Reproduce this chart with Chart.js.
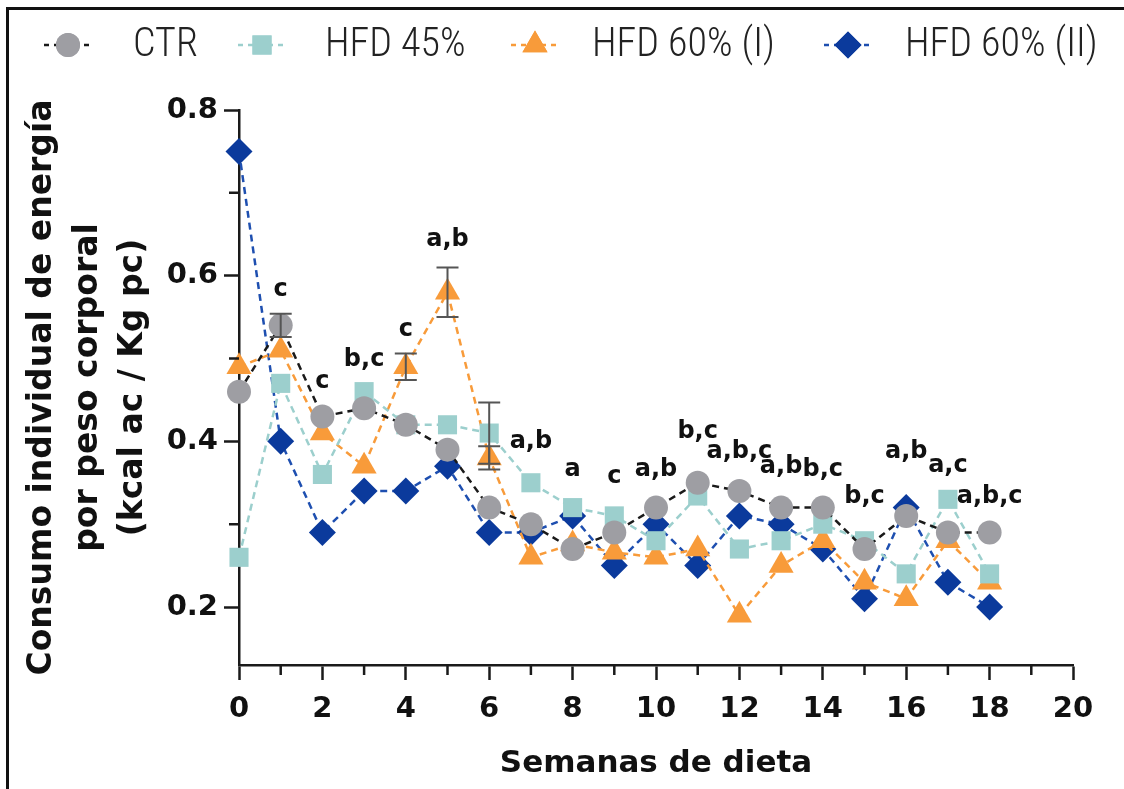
<!DOCTYPE html>
<html lang="es">
<head>
<meta charset="UTF-8">
<title>Consumo individual de energía</title>
<script src="https://cdn.jsdelivr.net/npm/chart.js"></script>
<style>
  body { margin: 0; background: #fff; overflow: hidden; }
  #frame { position: absolute; left: 6px; top: 7px; width: 1200px; height: 900px; border: 3px solid #111; }
  #wrap { position: absolute; left: 0; top: 0; width: 1124px; height: 789px; }
</style>
</head>
<body>
<div id="frame"></div>
<div id="wrap"><canvas id="chart" width="1124" height="789"></canvas></div>
<script>
// semanas
const weeks = [0, 1, 2, 3, 4, 5, 6, 7, 8, 9, 10, 11, 12, 13, 14, 15, 16, 17, 18];

const ctrVals    = [0.46, 0.54, 0.43, 0.44, 0.42, 0.39, 0.32, 0.30, 0.27, 0.29, 0.32, 0.35, 0.34, 0.32, 0.32, 0.27, 0.31, 0.29, 0.29];
const hfd45Vals  = [0.26, 0.47, 0.36, 0.46, 0.42, 0.42, 0.41, 0.35, 0.32, 0.31, 0.28, 0.334, 0.27, 0.28, 0.30, 0.28, 0.24, 0.33, 0.24];
const hfd60iVals = [0.49, 0.51, 0.41, 0.37, 0.49, 0.58, 0.38, 0.26, 0.276, 0.266, 0.26, 0.27, 0.19, 0.25, 0.28, 0.23, 0.21, 0.28, 0.23];
const hfd60iiVals= [0.75, 0.40, 0.29, 0.34, 0.34, 0.37, 0.29, 0.29, 0.31, 0.25, 0.30, 0.25, 0.31, 0.30, 0.27, 0.21, 0.32, 0.23, 0.20];

// error (SEM), 0 = no se ve
const ctrErr     = [0, 0.014, 0, 0, 0, 0, 0, 0, 0, 0, 0, 0, 0, 0, 0, 0, 0, 0, 0];
const hfd45Err   = [0, 0, 0, 0, 0, 0, 0.037, 0, 0, 0, 0, 0, 0, 0, 0, 0, 0, 0, 0];
const hfd60iErr  = [0, 0, 0, 0, 0.016, 0.03, 0.014, 0, 0, 0, 0, 0, 0, 0, 0, 0, 0, 0, 0];
const hfd60iiErr = [0, 0, 0, 0, 0, 0, 0, 0, 0, 0, 0, 0, 0, 0, 0, 0, 0, 0, 0];

// letras de significancia
const sigWeeks  = [1, 2, 3, 4, 5, 7, 8, 9, 10, 11, 12, 13, 14, 15, 16, 17, 18];
const sigLabels = ['c', 'c', 'b,c', 'c', 'a,b', 'a,b', 'a', 'c', 'a,b', 'b,c', 'a,b,c', 'a,b', 'b,c', 'b,c', 'a,b', 'a,c', 'a,b,c'];
const sigY      = [0.583, 0.472, 0.499, 0.535, 0.643, 0.399, 0.366, 0.357, 0.366, 0.411, 0.388, 0.369, 0.366, 0.333, 0.388, 0.371, 0.333];

const xTicks = [0, 1, 2, 3, 4, 5, 6, 7, 8, 9, 10, 11, 12, 13, 14, 15, 16, 17, 18, 19, 20];
const yTicks = [0.2, 0.3, 0.4, 0.5, 0.6, 0.7, 0.8];

const series = [
  { label: 'CTR',          vals: ctrVals,     err: ctrErr,     color: '#9e9ea3', line: '#1a1a1a', style: 'circle',   r: 12,   order: 0 },
  { label: 'HFD 45%',      vals: hfd45Vals,   err: hfd45Err,   color: '#9ccfcd', line: '#9ccfcd', style: 'rect',     r: 13.5, order: 1 },
  { label: 'HFD 60% (I)',  vals: hfd60iVals,  err: hfd60iErr,  color: '#f89b3a', line: '#f89b3a', style: 'triangle', r: 14.5, order: 2 },
  { label: 'HFD 60% (II)', vals: hfd60iiVals, err: hfd60iiErr, color: '#0b3a9c', line: '#1e4fb0', style: 'rectRot',  r: 13.5, order: 3 }
];

const boldFont = 'DejaVu Sans';
const dash = [7, 5];

const errorBars = {
  id: 'errorBars',
  afterDatasetsDraw(chart) {
    const ctx = chart.ctx, x = chart.scales.x, y = chart.scales.y;
    ctx.save();
    ctx.strokeStyle = '#555';
    ctx.lineWidth = 2;
    series.forEach(s => {
      s.err.forEach((e, i) => {
        if (!e) return;
        const px = x.getPixelForValue(weeks[i]);
        const top = y.getPixelForValue(s.vals[i] + e);
        const bot = y.getPixelForValue(s.vals[i] - e);
        ctx.beginPath();
        ctx.moveTo(px, top); ctx.lineTo(px, bot);
        ctx.moveTo(px - 11, top); ctx.lineTo(px + 11, top);
        ctx.moveTo(px - 11, bot); ctx.lineTo(px + 11, bot);
        ctx.stroke();
      });
    });
    ctx.restore();
  }
};

const sigText = {
  id: 'sigText',
  afterDraw(chart) {
    const ctx = chart.ctx, x = chart.scales.x, y = chart.scales.y;
    ctx.save();
    ctx.fillStyle = '#111';
    ctx.font = 'bold 24px "' + boldFont + '"';
    ctx.textAlign = 'center';
    ctx.textBaseline = 'middle';
    sigWeeks.forEach((w, i) => {
      ctx.fillText(sigLabels[i], x.getPixelForValue(w), y.getPixelForValue(sigY[i]));
    });
    ctx.restore();
  }
};

const minorTicks = {
  id: 'minorTicks',
  afterDraw(chart) {
    const ctx = chart.ctx, x = chart.scales.x, y = chart.scales.y;
    const a = chart.chartArea;
    ctx.save();
    ctx.strokeStyle = '#1a1a1a';
    ctx.lineWidth = 2.5;
    ctx.beginPath();
    xTicks.forEach(v => {
      if (v % 2 === 0) return;
      const px = x.getPixelForValue(v);
      ctx.moveTo(px, a.bottom); ctx.lineTo(px, a.bottom + 10);
    });
    [0.3, 0.5, 0.7].forEach(v => {
      const py = y.getPixelForValue(v);
      ctx.moveTo(a.left, py); ctx.lineTo(a.left - 10, py);
    });
    ctx.stroke();
    ctx.restore();
  }
};

const legendLine = {
  id: 'legendLine',
  afterDraw(chart) {
    const ctx = chart.ctx;
    const markerX = [68, 262, 535, 848];
    const textX = [133, 325, 592, 905];
    const yc = 45;
    ctx.save();
    series.forEach((s, i) => {
      ctx.strokeStyle = s.line;
      ctx.lineWidth = 2.5;
      ctx.setLineDash([5, 5]);
      ctx.beginPath();
      ctx.moveTo(markerX[i] - 24, yc); ctx.lineTo(markerX[i] + 24, yc);
      ctx.stroke();
      ctx.setLineDash([]);
      ctx.fillStyle = s.color;
      ctx.strokeStyle = s.color;
      Chart.helpers.drawPoint(ctx, { pointStyle: s.style, radius: s.r, borderWidth: 0, rotation: 0 }, markerX[i], yc);
      ctx.fill();
      ctx.fillStyle = '#222';
      ctx.font = '300 40px "Liberation Sans Narrow", "Roboto Condensed", "Roboto", sans-serif';
      ctx.textAlign = 'left';
      ctx.textBaseline = 'middle';
      ctx.fillText(s.label, textX[i], yc + 1);
    });
    ctx.restore();
  }
};

new Chart(document.getElementById('chart'), {
  type: 'line',
  data: {
    datasets: series.map(s => ({
      label: s.label,
      data: weeks.map((w, i) => ({ x: w, y: s.vals[i] })),
      borderColor: s.line,
      borderWidth: 2.5,
      borderDash: dash,
      backgroundColor: s.color,
      pointBackgroundColor: s.color,
      pointBorderColor: s.color,
      pointBorderWidth: 0,
      pointStyle: s.style,
      pointRadius: s.r,
      order: s.order,
      clip: false,
      tension: 0,
      fill: false
    }))
  },
  options: {
    responsive: false,
    animation: false,
    layout: { padding: { top: 110, left: 10, right: 51, bottom: 4 } },
    plugins: { legend: { display: false }, tooltip: { enabled: false } },
    scales: {
      x: {
        type: 'linear', min: 0, max: 20,
        afterBuildTicks: sc => { sc.ticks = xTicks.map(v => ({ value: v })); },
        afterFit: sc => { sc.height = 120; },
        grid: {
          drawOnChartArea: false,
          tickLength: 15,
          tickWidth: 2.5,
          tickColor: c => (c.tick && c.tick.value % 2 === 0) ? '#1a1a1a' : 'rgba(0,0,0,0)'
        },
        border: { color: '#1a1a1a', width: 2.5 },
        ticks: {
          color: '#111', padding: 12, maxRotation: 0, autoSkip: false,
          font: { family: boldFont, size: 29, weight: 'bold' },
          callback: v => (v % 2 === 0 ? String(v) : '')
        },
        title: {
          display: true, text: 'Semanas de dieta', color: '#111',
          font: { family: boldFont, size: 31, weight: 'bold' }, padding: { top: 12, bottom: 2 }
        }
      },
      y: {
        type: 'linear', min: 0.13, max: 0.8,
        afterBuildTicks: sc => { sc.ticks = yTicks.map(v => ({ value: v })); },
        afterFit: sc => { sc.width = 229; },
        grid: {
          drawOnChartArea: false,
          tickLength: 15,
          tickWidth: 2.5,
          tickColor: c => (c.tick && [0.2, 0.4, 0.6, 0.8].some(t => Math.abs(t - c.tick.value) < 1e-6)) ? '#1a1a1a' : 'rgba(0,0,0,0)'
        },
        border: { color: '#1a1a1a', width: 2.5 },
        ticks: {
          color: '#111', padding: 6, autoSkip: false,
          font: { family: boldFont, size: 29, weight: 'bold' },
          callback: v => ([0.2, 0.4, 0.6, 0.8].some(t => Math.abs(t - v) < 1e-6) ? v.toFixed(1) : '')
        },
        title: {
          display: true,
          text: ['Consumo individual de energía', 'por peso corporal', '(kcal ac / Kg pc)'],
          color: '#111',
          font: { family: boldFont, size: 33, weight: 'bold', lineHeight: 1.38 },
          padding: { top: 10, bottom: 0 }
        }
      }
    }
  },
  plugins: [errorBars, minorTicks, sigText, legendLine]
});
</script>
</body>
</html>
